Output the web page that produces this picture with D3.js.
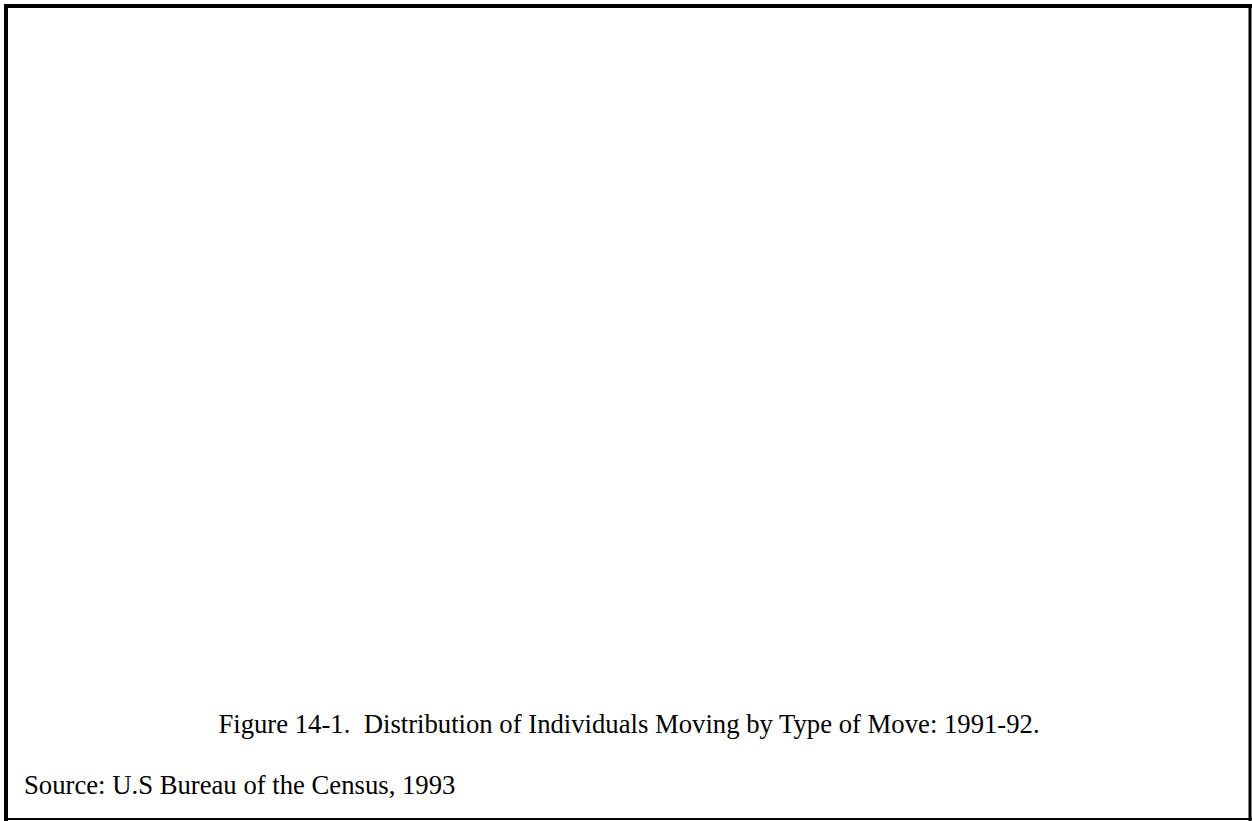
<!DOCTYPE html>
<html>
<head>
<meta charset="utf-8">
<script src="https://cdn.jsdelivr.net/npm/d3@7"></script>
<style>
html,body{margin:0;padding:0;background:#fff;}
svg{display:block;}
</style>
</head>
<body>
<svg id="chart" width="1252" height="821"></svg>
<script>
const captionLines = ["Figure 14-1.\u00a0\u00a0Distribution of Individuals Moving by Type of Move: 1991-92."];
const sourceLines = ["Source: U.S Bureau of the Census, 1993"];
const categories = [];
const values = [];

const W = 1252, H = 821;
const svg = d3.select("#chart");
svg.append("rect").attr("width", W).attr("height", H).attr("fill", "#fff");

// frame
const frame = svg.append("g").attr("stroke", "#000");
frame.append("line").attr("x1", 4).attr("x2", W).attr("y1", 6).attr("y2", 6).attr("stroke-width", 4);
frame.append("line").attr("x1", 6).attr("x2", 6).attr("y1", 4).attr("y2", H).attr("stroke-width", 4);
frame.append("line").attr("x1", W - 2).attr("x2", W - 2).attr("y1", 4).attr("y2", H).attr("stroke-width", 3);
frame.append("line").attr("x1", 4).attr("x2", W).attr("y1", H - 2).attr("y2", H - 2).attr("stroke-width", 2);

svg.selectAll("text.caption").data(captionLines).join("text")
  .attr("class", "caption")
  .attr("x", 629).attr("y", (d, i) => 733 + i * 30)
  .attr("text-anchor", "middle")
  .attr("font-family", "'Liberation Serif', 'Times New Roman', serif")
  .attr("font-size", 26.7)
  .attr("fill", "#000")
  .text(d => d);

svg.selectAll("text.source").data(sourceLines).join("text")
  .attr("class", "source")
  .attr("x", 24).attr("y", (d, i) => 794 + i * 30)
  .attr("font-family", "'Liberation Serif', 'Times New Roman', serif")
  .attr("font-size", 26.7)
  .attr("fill", "#000")
  .text(d => d);
</script>
</body>
</html>
